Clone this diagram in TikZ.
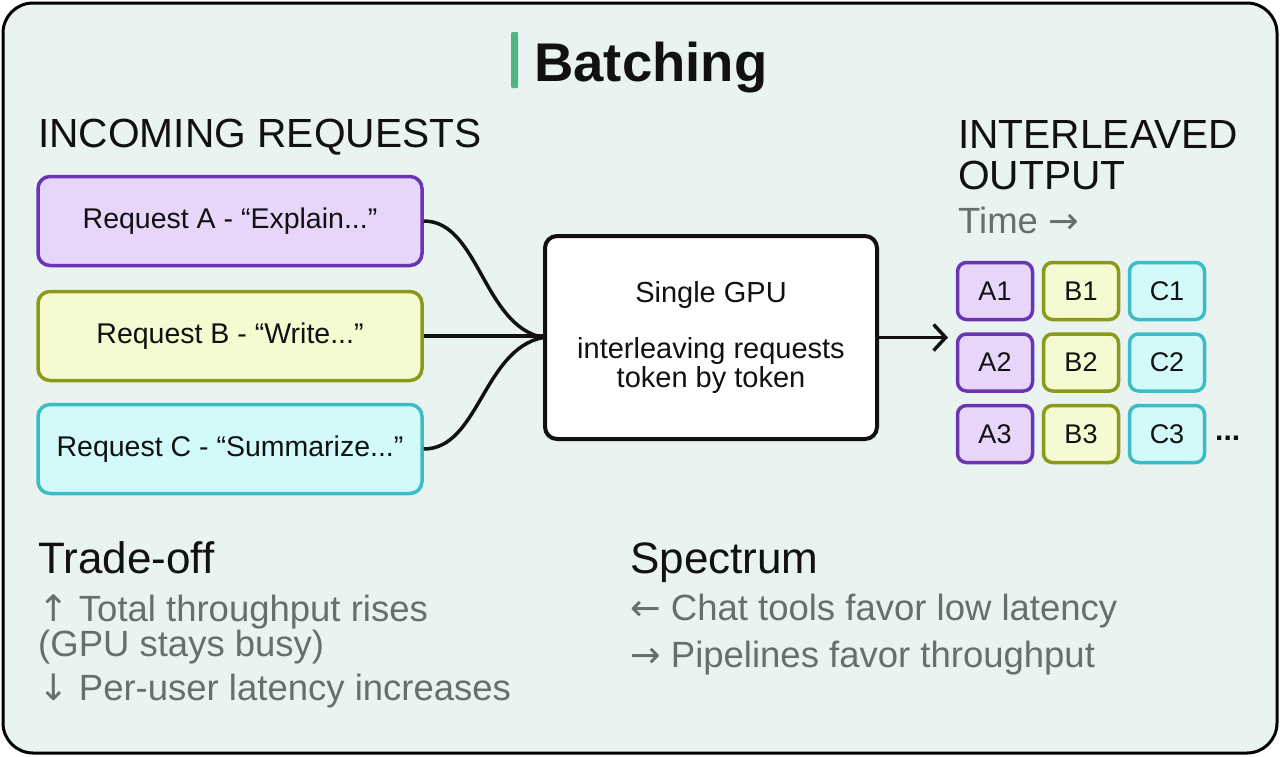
\documentclass[tikz,border=0pt]{standalone}
\usepackage{fontspec}
\setmainfont{Liberation Sans}
\newfontfamily\arrowfont{DejaVu Sans}
\usetikzlibrary{arrows.meta}
\definecolor{bg}{RGB}{233,243,240}
\definecolor{ink}{RGB}{17,17,17}
\definecolor{graytxt}{RGB}{102,111,108}
\definecolor{barcol}{RGB}{76,183,130}
\definecolor{pfill}{RGB}{231,214,250}
\definecolor{pline}{RGB}{106,52,180}
\definecolor{ofill}{RGB}{245,250,208}
\definecolor{oline}{RGB}{138,154,26}
\definecolor{tfill}{RGB}{211,250,250}
\definecolor{tline}{RGB}{60,188,196}
\newcommand\fsz[1]{\fontsize{#1}{#1}\selectfont}
\newcommand\arr[1]{{\arrowfont #1}}
\tikzset{
  reqbox/.style={rounded corners=12pt, line width=3.5pt, minimum width=384pt, minimum height=89pt, inner sep=0pt, font=\fsz{28.5}, text=ink},
  tokbox/.style={rounded corners=9pt, line width=3.5pt, minimum width=75pt, minimum height=57pt, inner sep=0pt, font=\fsz{27}, text=ink},
  pbox/.style={draw=pline, fill=pfill},
  obox/.style={draw=oline, fill=ofill},
  tbox/.style={draw=tline, fill=tfill},
  heading/.style={anchor=base west, inner sep=0pt, font=\fsz{40.7}, text=ink},
  subhead/.style={anchor=base west, inner sep=0pt, font=\fsz{44}, text=ink},
  graytext/.style={anchor=base west, inner sep=0pt, font=\fsz{36.5}, text=graytxt},
  link/.style={line width=3.5pt, draw=ink},
}
\begin{document}
\begin{tikzpicture}[x=1pt,y=-1pt]
\useasboundingbox (0,0) rectangle (1280,756);
\draw[line width=3pt, fill=bg, rounded corners=30pt] (3,3) rectangle (1277,753);

% title
\fill[barcol, rounded corners=1pt] (511,32) rectangle (518,88);
\node[anchor=base west, inner sep=0pt, font=\bfseries\fsz{54.5}, text=ink] (title) at (534,81) {Batching};

% headings
\node[heading] (inhead) at (38,147) {INCOMING REQUESTS};
\node[heading] (outhead1) at (958,148) {INTERLEAVED};
\node[heading] (outhead2) at (958,189) {OUTPUT};
\node[graytext] (time) at (958,233) {Time \arr{→}};

% requests
\node[reqbox, pbox] (reqA) at (230,221) {Request A - “Explain...”};
\node[reqbox, obox] (reqB) at (230,336) {Request B - “Write...”};
\node[reqbox, tbox] (reqC) at (230,449) {Request C - “Summarize...”};

% GPU
\node[draw=ink, fill=white, line width=4pt, rounded corners=12pt, minimum width=332pt, minimum height=203pt, inner sep=0pt, align=center, font=\fontsize{29}{29}\selectfont, text=ink] (gpu) at (711,337.5)
  {Single GPU\\[27pt]interleaving requests\\token by token};

\draw[link] (reqA.east) .. controls +(55,0) and +(-60,-12) .. (gpu.west);
\draw[link] (reqB.east) -- (reqB.east -| gpu.west);
\draw[link] (reqC.east) .. controls +(55,0) and +(-60,12) .. (gpu.west);

\coordinate (outin) at (948,337.5);
\draw[link, -{Straight Barb[length=12pt,width=26pt,line width=3.5pt]}] (gpu.east) -- (outin);

% token grid
\node[tokbox, pbox] (A1) at (995,291) {A1};
\node[tokbox, obox] (B1) at (1081,291) {B1};
\node[tokbox, tbox] (C1) at (1167,291) {C1};
\node[tokbox, pbox] (A2) at (995,362.5) {A2};
\node[tokbox, obox] (B2) at (1081,362.5) {B2};
\node[tokbox, tbox] (C2) at (1167,362.5) {C2};
\node[tokbox, pbox] (A3) at (995,434) {A3};
\node[tokbox, obox] (B3) at (1081,434) {B3};
\node[tokbox, tbox] (C3) at (1167,434) {C3};
\node[anchor=base west, inner sep=0pt, font=\bfseries\fsz{30}, text=ink] (dots) at (1215,440) {...};

% trade-off
\node[subhead] (trade) at (38,573) {Trade-off};
\node[graytext, align=left, anchor=north west, font=\fontsize{36.5}{32}\selectfont] (t1) at (38,595)
  {\arr{↑} Total throughput rises\\(GPU stays busy)};
\node[graytext] (t3) at (38,700) {\arr{↓} Per-user latency increases};

% spectrum
\node[subhead] (spec) at (630,573) {Spectrum};
\node[graytext] (s1) at (630,620) {\arr{←} Chat tools favor low latency};
\node[graytext] (s2) at (630,667) {\arr{→} Pipelines favor throughput};
\end{tikzpicture}
\end{document}
